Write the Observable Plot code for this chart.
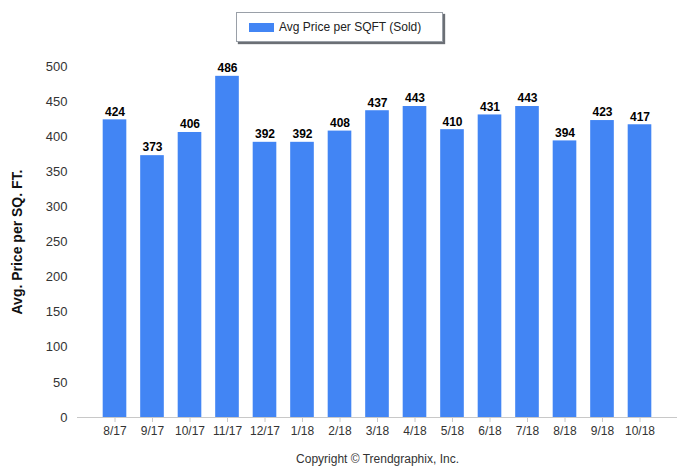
<!DOCTYPE html>
<html>
<head>
<meta charset="utf-8">
<script src="https://cdn.jsdelivr.net/npm/d3@7"></script>
<script src="https://cdn.jsdelivr.net/npm/@observablehq/plot@0.6"></script>
<style>
  html, body { margin: 0; padding: 0; background: #fff; }
  #wrap { position: relative; width: 699px; height: 469px; font-family: "Liberation Sans", Arial, sans-serif; }
  #legend { position: absolute; left: 236px; top: 12px; width: 205px; height: 28px; border: 1px solid #9aa0a8;
    box-shadow: 2px 2px 1px #6b6f75; background: #fff; display: flex; align-items: center; font-size: 12px; color: #222; }
  #legend .sw { width: 25px; height: 9px; background: #4285F4; margin-left: 12px; margin-right: 5px; }
</style>
</head>
<body>
<div id="wrap">
  <div id="chart"></div>
  <div id="legend"><span class="sw"></span><span>Avg Price per SQFT (Sold)</span></div>
</div>
<script>
const months = ["8/17","9/17","10/17","11/17","12/17","1/18","2/18","3/18","4/18","5/18","6/18","7/18","8/18","9/18","10/18"];
const values = [424,373,406,486,392,392,408,437,443,410,431,443,394,423,417];
const yTicks = [0,50,100,150,200,250,300,350,400,450,500];

const data = months.map((m, i) => ({month: m, value: values[i]}));

const chart = Plot.plot({
  width: 699,
  height: 469,
  marginLeft: 77,
  marginRight: 22,
  marginTop: 66,
  marginBottom: 52,
  style: {fontFamily: "'Liberation Sans', Arial, sans-serif", fontSize: "12px", color: "#333", background: "#fff"},
  x: {domain: months, paddingInner: 0.37, paddingOuter: 0.685, round: false, label: null},
  y: {domain: [0, 500], ticks: yTicks, label: null},
  marks: [
    Plot.gridY(yTicks, {stroke: "#d9d9d9", strokeOpacity: 1, x1: 71}),
    Plot.axisY({ticks: yTicks, tickSize: 0, tickPadding: 10, fontSize: 13, fill: "#333"}),
    Plot.axisY({ticks: [], label: "Avg. Price per SQ. FT.", labelAnchor: "center", labelOffset: 65, labelArrow: "none", fontWeight: "bold", fontSize: 14, fill: "#111"}),
    Plot.barY(data, {x: "month", y: "value", fill: "#4285F4"}),
    Plot.ruleY([0], {stroke: "#c8c8c8"}),
    Plot.axisX({tickSize: 5, stroke: "#c8c8c8", tickPadding: 4, fontSize: 12, fill: "#333",
      label: "Copyright © Trendgraphix, Inc.", labelAnchor: "center", labelArrow: "none", labelOffset: 45}),
    Plot.text(data, {x: "month", y: "value", text: d => String(d.value), dy: -8, fontWeight: "bold", fontSize: 12, fill: "#000"})
  ]
});
document.getElementById("chart").appendChild(chart);
</script>
</body>
</html>
